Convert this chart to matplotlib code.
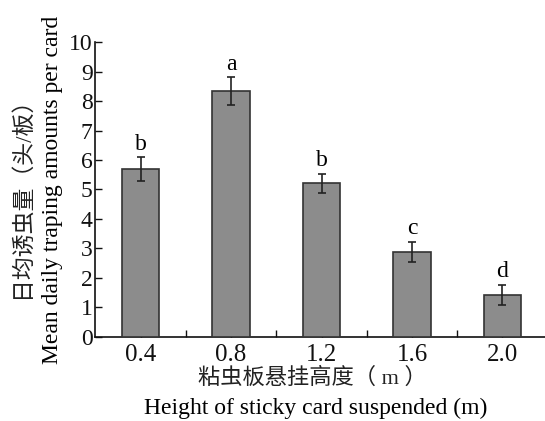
import numpy as np
import matplotlib.pyplot as plt

heights = [0.4, 0.8, 1.2, 1.6, 2.0]
means = [5.68, 8.34, 5.21, 2.89, 1.42]
errs = [0.41, 0.46, 0.33, 0.34, 0.34]
letters = ['b', 'a', 'b', 'c', 'd']
tick_labels = ['0.4', '0.8', '1.2', '1.6', '2.0']

plt.rcParams['font.family'] = ['Liberation Serif', 'Noto Sans CJK SC']
plt.rcParams['font.size'] = 17

fig = plt.figure(figsize=(5.45, 4.21), dpi=100)
ax = fig.add_axes([0.175, 0.2, 0.83, 0.7])

ax.bar(heights, means, width=0.165, color='#8c8c8c', edgecolor='#333333',
       linewidth=1.2, zorder=3)
ax.errorbar(heights, means, yerr=errs, fmt='none', ecolor='#222222',
            elinewidth=1.2, capsize=2.6, capthick=1.2, zorder=4)

for x, m, e, s in zip(heights, means, errs, letters):
    ax.annotate(s, (x, m + e), xytext=(0, 2), textcoords='offset points',
                ha='center', va='bottom', fontsize=17)

ax.set_xlim(0.2, 2.2)
ax.set_ylim(0, 10)
ax.set_yticks(np.arange(0, 11, 1))
ax.set_xticks(heights)
ax.set_xticklabels(tick_labels)
ax.set_xticks([0.6, 1.0, 1.4, 1.8], minor=True)
ax.tick_params(axis='both', which='both', direction='in', length=5, width=1,
               colors='#111111', labelsize=18)
ax.tick_params(axis='x', pad=5)
ax.tick_params(axis='y', pad=2, labelsize=17)

for sp in ['top', 'right']:
    ax.spines[sp].set_visible(False)
for sp in ['left', 'bottom']:
    ax.spines[sp].set_linewidth(1.2)
    ax.spines[sp].set_color('#111111')

# axis titles: Chinese line + English line
fig.text(0.040, 0.545, '日均诱虫量（头/板）', rotation=90, ha='center',
         va='center', fontsize=16.5, color='#222222')
fig.text(0.096, 0.549, 'Mean daily traping amounts per card', rotation=90,
         ha='center', va='center', fontsize=17)
fig.text(0.573, 0.102, '粘虫板悬挂高度（ m ）', ha='center', va='center',
         fontsize=16, color='#222222')
fig.text(0.58, 0.0166, 'Height of sticky card suspended (m)', ha='center',
         va='baseline', fontsize=17)

fig.savefig('out.png', dpi=100)
